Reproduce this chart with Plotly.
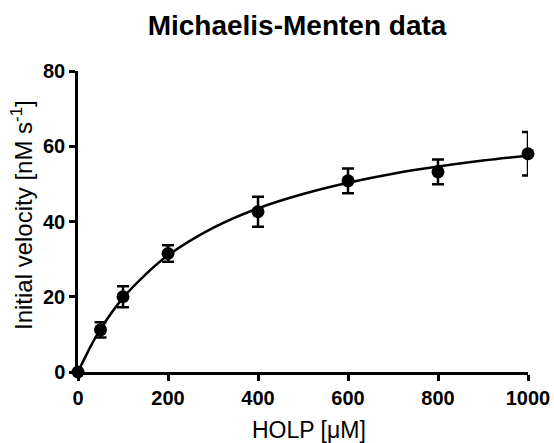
import plotly.graph_objects as go

# Data
holp_uM = [0, 50, 100, 200, 400, 600, 800, 1000]
velocity = [0, 11.2, 20.0, 31.5, 42.6, 50.8, 53.2, 58.0]
velocity_err = [0, 2.0, 2.8, 2.2, 4.0, 3.3, 3.3, 5.8]

# Fitted curve
curve_x = [0, 25, 50, 100, 150, 200, 300, 400, 500, 600, 700, 800, 900, 1000]
curve_y = [0, 6.1, 11.4, 19.7, 25.9, 31.0, 38.3, 43.5, 47.3, 50.3, 52.7, 54.6, 56.2, 57.5]

x_ticks = [0, 200, 400, 600, 800, 1000]
y_ticks = [0, 20, 40, 60, 80]

W, H = 554, 443
L, R, T, B = 78, 26, 71, 71
plot_w = W - L - R
plot_h = H - T - B


def px_to_paper_x(px):
    return (px - L) / plot_w


def px_to_paper_y(py):
    return (H - B - py) / plot_h


fig = go.Figure()
fig.add_trace(go.Scatter(
    x=curve_x, y=curve_y, mode="lines", line=dict(color="black", width=2.5, shape="spline"),
    hoverinfo="skip", showlegend=False, cliponaxis=False))
fig.add_trace(go.Scatter(
    x=holp_uM, y=velocity, mode="markers",
    marker=dict(color="black", size=13, symbol="circle"),
    error_y=dict(type="data", array=velocity_err, visible=True, color="black", thickness=2.5, width=6),
    showlegend=False, cliponaxis=False))

font_family = "Liberation Sans, Arial, sans-serif"
axis_common = dict(
    showgrid=False, zeroline=False, showline=True, linecolor="black", linewidth=2.5,
    ticks="outside", ticklen=6, tickwidth=2.5, tickcolor="black",
    tickfont=dict(size=20, family=font_family, color="black"), automargin=False,
)
fig.update_layout(
    width=W, height=H,
    paper_bgcolor="white", plot_bgcolor="white",
    margin=dict(l=L, r=R, t=T, b=B, autoexpand=False),
    title=dict(text="<b>Michaelis-Menten data</b>", x=297 / W, xanchor="center",
               y=1 - 25 / H, yanchor="middle", font=dict(family=font_family, size=28, color="black")),
    font=dict(family=font_family, color="black"),
    xaxis=dict(range=[0, 1000], tickvals=x_ticks, ticktext=[f"<b>{v}</b>" for v in x_ticks], **axis_common),
    yaxis=dict(range=[0, 80], tickvals=y_ticks, ticktext=[f"<b>{v}</b>" for v in y_ticks], **axis_common),
    annotations=[
        dict(text="HOLP [μM]", xref="paper", yref="paper", x=px_to_paper_x(309), y=px_to_paper_y(430),
             xanchor="center", yanchor="middle", showarrow=False,
             font=dict(family=font_family, size=23, color="black")),
        dict(text="Initial velocity [nM s<sup>-1</sup>]", xref="paper", yref="paper",
             x=px_to_paper_x(22), y=px_to_paper_y(215), textangle=-90,
             xanchor="center", yanchor="middle", showarrow=False,
             font=dict(family=font_family, size=24, color="black")),
    ],
)

fig.write_html("out.html", config={"displayModeBar": False},
               post_script="document.body.style.margin='0';document.body.style.overflow='hidden';")
